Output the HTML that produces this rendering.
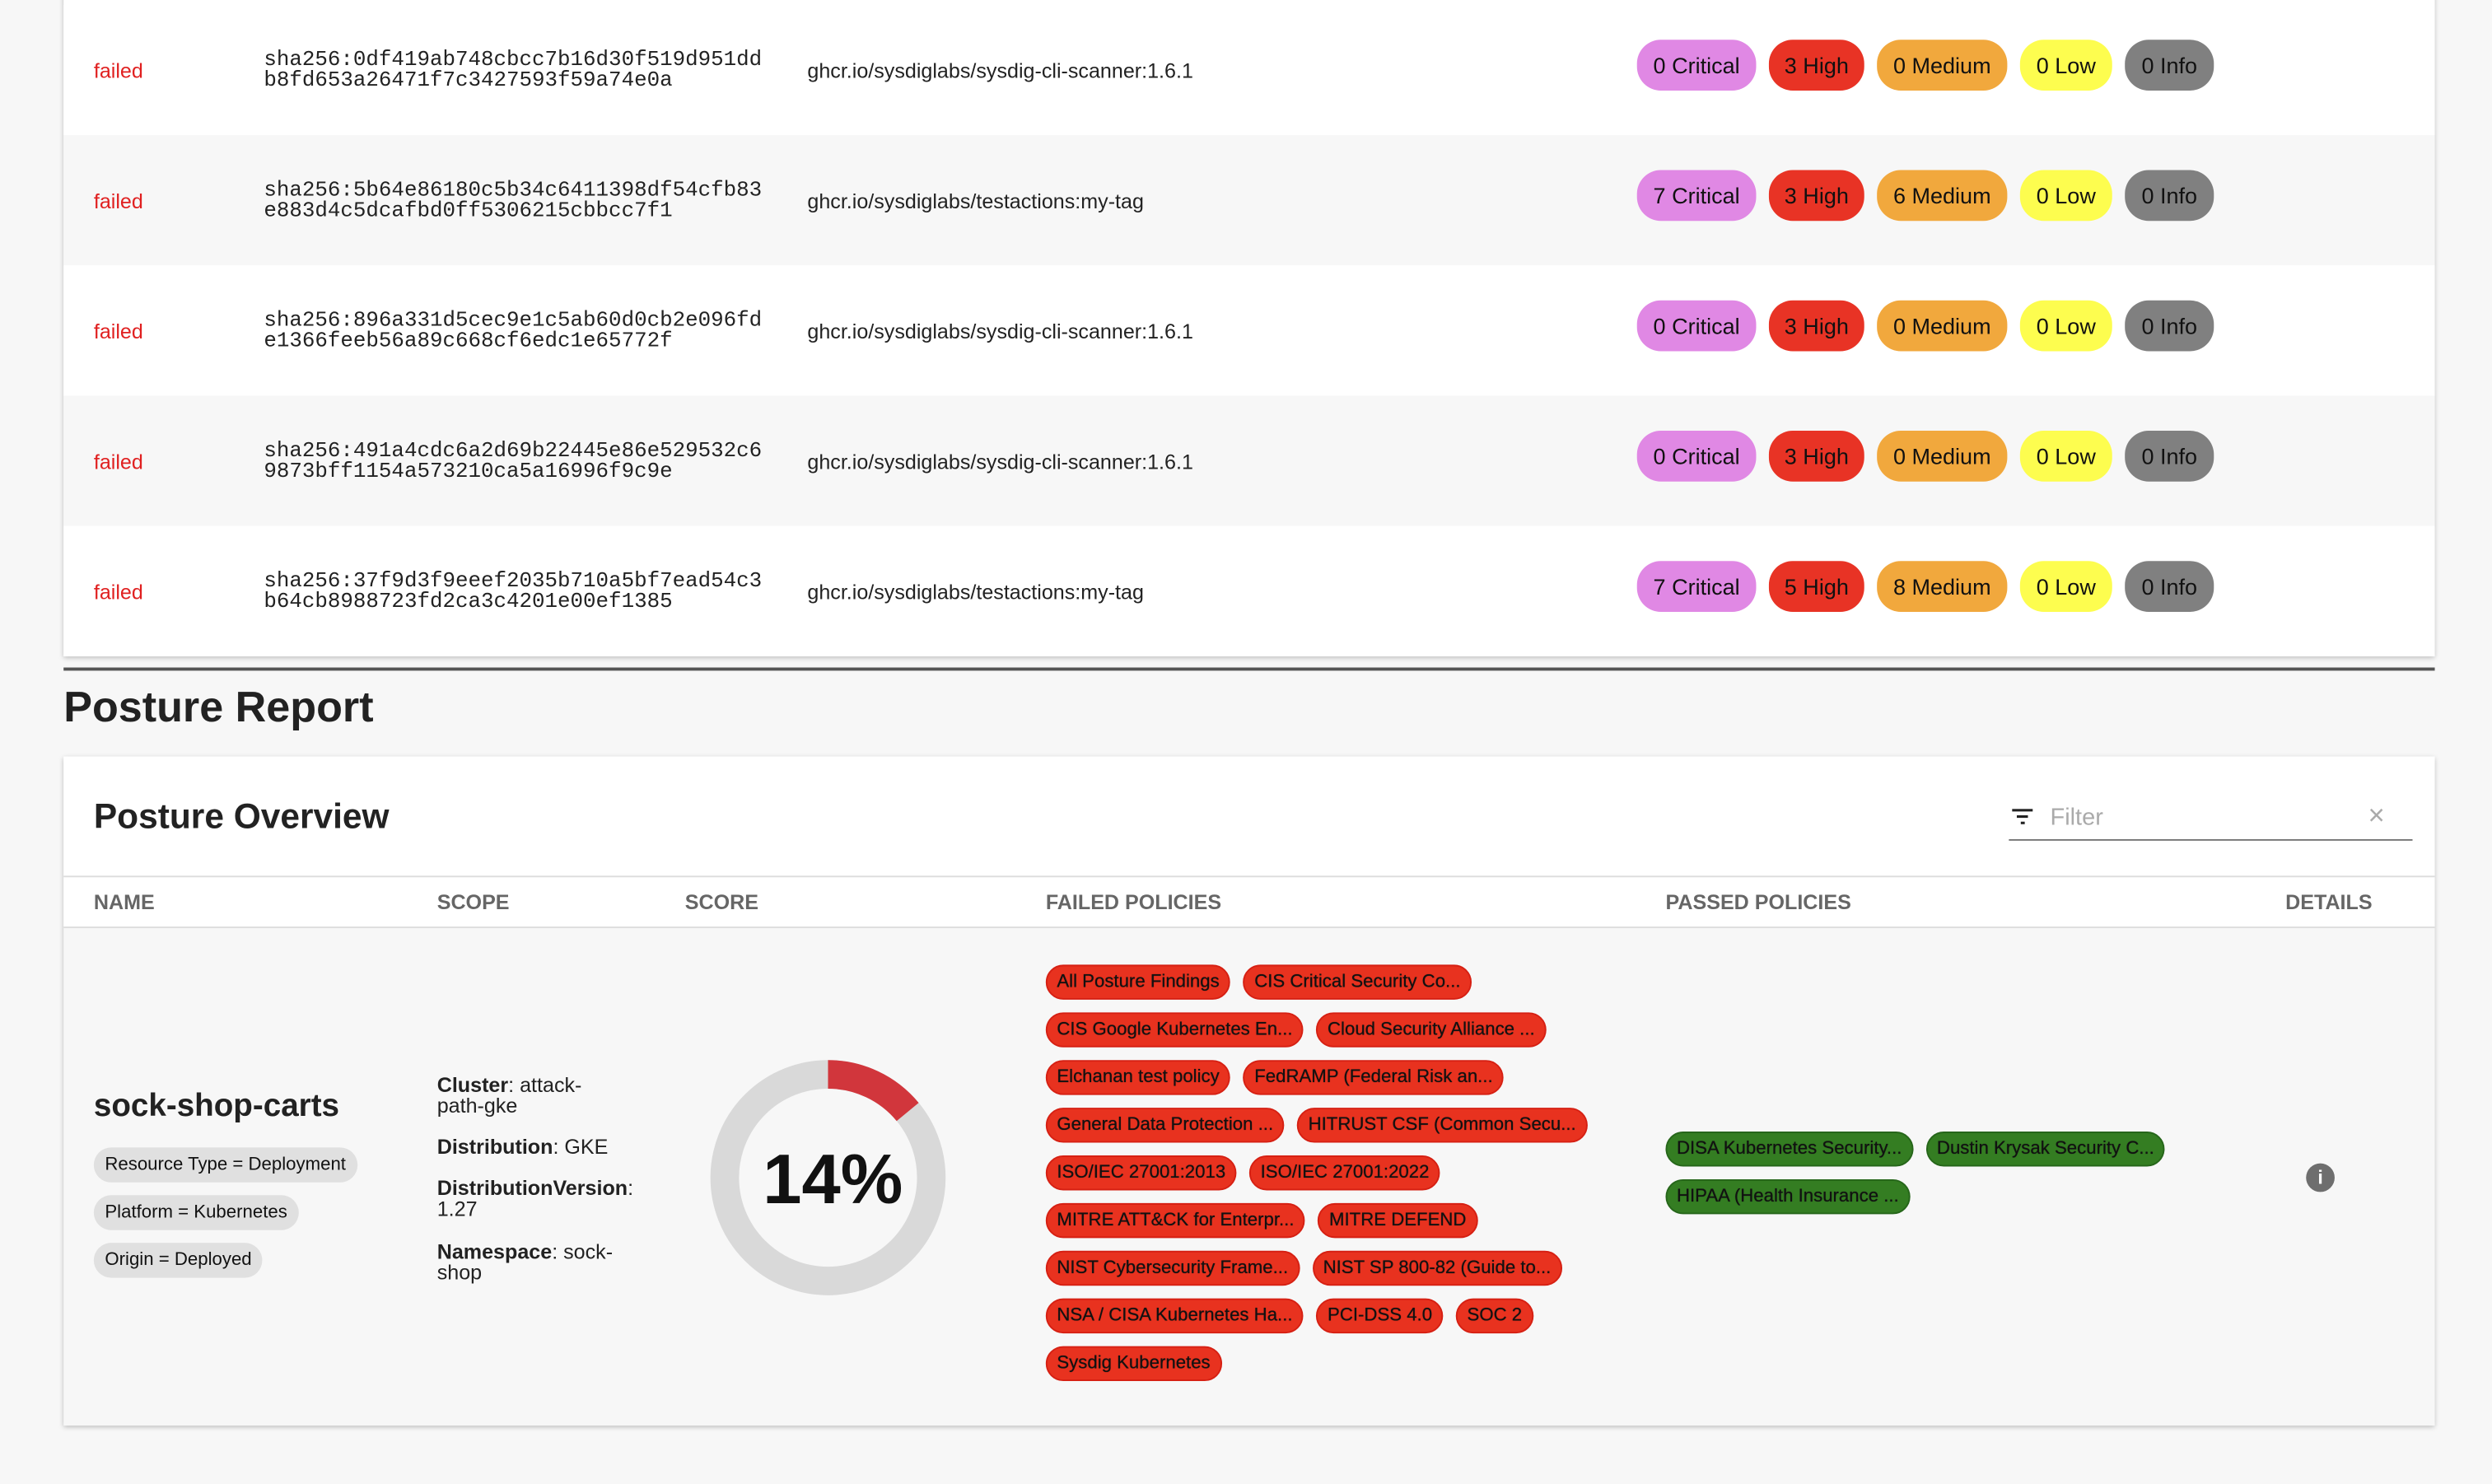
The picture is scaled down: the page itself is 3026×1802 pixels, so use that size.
<!DOCTYPE html>
<html><head><meta charset="utf-8"><style>
*{margin:0;padding:0;box-sizing:border-box}
html,body{width:3026px;height:1802px;overflow:hidden;background:#f7f7f7}
#s{position:absolute;left:0;top:0;width:1568px;height:934px;transform:scale(1.92985);transform-origin:0 0;font-family:"Liberation Sans",sans-serif;color:#222}
.a{position:absolute}
.card1{left:40px;top:-5px;width:1492px;height:418px;background:#fff;box-shadow:0 1px 3px rgba(0,0,0,.25)}
.row{position:absolute;left:0;width:1492px;height:82px}
.f{position:absolute;left:19px;top:34px;color:#e02020;font-size:13px}
.h{position:absolute;left:126px;top:29px;font-family:"Liberation Mono",monospace;font-size:13.4px;line-height:13px;color:#222}
.im{position:absolute;left:468px;top:34px;font-size:13px;color:#222}
.bd{position:absolute;top:22px;height:32px;border-radius:15px;font-size:14px;line-height:32px;text-align:center;color:#111}
.cr{background:#e088e4}.hi{background:#e83325}.me{background:#f1a83d}.lo{background:#fdfd4f}.in{background:#808080}
.card2{left:40px;top:476px;width:1492px;height:421px;background:#f7f7f7;box-shadow:0 1px 3px rgba(0,0,0,.25)}
.th{position:absolute;top:84px;font-size:13px;font-weight:bold;color:#666}
.chip{position:absolute;left:19px;height:22px;border-radius:11px;background:#e0e0e0;font-size:11.5px;line-height:22px;padding:0 7px;color:#111}
.sc{position:absolute;left:235px;font-size:13px;line-height:13px;color:#222}
.pr{position:absolute;left:618px;display:flex;gap:8px}
.p{height:22px;border-radius:11px;background:#e8321f;border:1px solid #d62013;font-size:11.5px;line-height:20px;padding:0 6px;color:#111;white-space:nowrap;text-shadow:0 0 .4px #111}
.g{background:#347d22;border-color:#26661a}
</style></head><body><div id="s">
<div class="a card1">
 <div class="row" style="top:8px;background:#fff"><div class="f">failed</div><div class="h">sha256:0df419ab748cbcc7b16d30f519d951dd<br>b8fd653a26471f7c3427593f59a74e0a</div><div class="im">ghcr.io/sysdiglabs/sysdig-cli-scanner:1.6.1</div>
 <div class="bd cr" style="left:990px;width:75px">0 Critical</div><div class="bd hi" style="left:1073px;width:60px">3 High</div><div class="bd me" style="left:1141px;width:82px">0 Medium</div><div class="bd lo" style="left:1231px;width:58px">0 Low</div><div class="bd in" style="left:1297px;width:56px">0 Info</div></div>
 <div class="row" style="top:90px;background:#f7f7f7"><div class="f">failed</div><div class="h">sha256:5b64e86180c5b34c6411398df54cfb83<br>e883d4c5dcafbd0ff5306215cbbcc7f1</div><div class="im">ghcr.io/sysdiglabs/testactions:my-tag</div>
 <div class="bd cr" style="left:990px;width:75px">7 Critical</div><div class="bd hi" style="left:1073px;width:60px">3 High</div><div class="bd me" style="left:1141px;width:82px">6 Medium</div><div class="bd lo" style="left:1231px;width:58px">0 Low</div><div class="bd in" style="left:1297px;width:56px">0 Info</div></div>
 <div class="row" style="top:172px;background:#fff"><div class="f">failed</div><div class="h">sha256:896a331d5cec9e1c5ab60d0cb2e096fd<br>e1366feeb56a89c668cf6edc1e65772f</div><div class="im">ghcr.io/sysdiglabs/sysdig-cli-scanner:1.6.1</div>
 <div class="bd cr" style="left:990px;width:75px">0 Critical</div><div class="bd hi" style="left:1073px;width:60px">3 High</div><div class="bd me" style="left:1141px;width:82px">0 Medium</div><div class="bd lo" style="left:1231px;width:58px">0 Low</div><div class="bd in" style="left:1297px;width:56px">0 Info</div></div>
 <div class="row" style="top:254px;background:#f7f7f7"><div class="f">failed</div><div class="h">sha256:491a4cdc6a2d69b22445e86e529532c6<br>9873bff1154a573210ca5a16996f9c9e</div><div class="im">ghcr.io/sysdiglabs/sysdig-cli-scanner:1.6.1</div>
 <div class="bd cr" style="left:990px;width:75px">0 Critical</div><div class="bd hi" style="left:1073px;width:60px">3 High</div><div class="bd me" style="left:1141px;width:82px">0 Medium</div><div class="bd lo" style="left:1231px;width:58px">0 Low</div><div class="bd in" style="left:1297px;width:56px">0 Info</div></div>
 <div class="row" style="top:336px;background:#fff"><div class="f">failed</div><div class="h">sha256:37f9d3f9eeef2035b710a5bf7ead54c3<br>b64cb8988723fd2ca3c4201e00ef1385</div><div class="im">ghcr.io/sysdiglabs/testactions:my-tag</div>
 <div class="bd cr" style="left:990px;width:75px">7 Critical</div><div class="bd hi" style="left:1073px;width:60px">5 High</div><div class="bd me" style="left:1141px;width:82px">8 Medium</div><div class="bd lo" style="left:1231px;width:58px">0 Low</div><div class="bd in" style="left:1297px;width:56px">0 Info</div></div>
</div>
<div class="a" style="left:40px;top:420px;width:1492px;height:2px;background:#555"></div>
<div class="a" style="left:40px;top:430px;font-size:27px;font-weight:bold;color:#222">Posture Report</div>
<div class="a card2">
 <div class="a" style="left:0;top:0;width:1492px;height:108px;background:#fff;border-bottom:1px solid #ddd"></div>
 <div class="a" style="left:0;top:75px;width:1492px;height:1px;background:#ddd"></div>
 <div class="a" style="left:19px;top:25px;font-size:22px;font-weight:bold;color:#222">Posture Overview</div>
 <div class="a" style="left:1224px;top:52px;width:254px;height:1px;background:#777"></div>
 <svg class="a" style="left:1226px;top:32px" width="14" height="12"><rect x="0" y="1" width="13" height="1.6" fill="#222"/><rect x="3" y="5" width="7" height="1.6" fill="#222"/><rect x="5.5" y="9" width="2.5" height="1.6" fill="#222"/></svg>
 <div class="a" style="left:1250px;top:30px;font-size:15px;color:#aaa">Filter</div>
 <div class="a" style="left:1450px;top:27px;font-size:18px;color:#aaa">×</div>
 <div class="th" style="left:19px">NAME</div><div class="th" style="left:235px">SCOPE</div><div class="th" style="left:391px">SCORE</div><div class="th" style="left:618px">FAILED POLICIES</div><div class="th" style="left:1008px">PASSED POLICIES</div><div class="th" style="left:1398px">DETAILS</div>
 <div class="a" style="left:19px;top:209px;font-size:20px;font-weight:bold;color:#222">sock-shop-carts</div>
 <div class="chip" style="top:246px">Resource Type = Deployment</div>
 <div class="chip" style="top:276px">Platform = Kubernetes</div>
 <div class="chip" style="top:306px">Origin = Deployed</div>
 <div class="sc" style="top:200px"><b>Cluster</b>: attack-<br>path-gke</div>
 <div class="sc" style="top:239px"><b>Distribution</b>: GKE</div>
 <div class="sc" style="top:265px"><b>DistributionVersion</b>:<br>1.27</div>
 <div class="sc" style="top:305px"><b>Namespace</b>: sock-<br>shop</div>
 <svg class="a" style="left:405px;top:189px" width="152" height="152"><circle cx="76" cy="76" r="65" fill="none" stroke="#d9d9d9" stroke-width="18"/><circle cx="76" cy="76" r="65" fill="none" stroke="#d1363c" stroke-width="18" stroke-dasharray="57.2 400" transform="rotate(-90 76 76)"/><text x="79" y="92" text-anchor="middle" font-family="Liberation Sans" font-weight="bold" font-size="44" fill="#111">14%</text></svg>
 <div class="pr" style="top:131px"><span class="p">All Posture Findings</span><span class="p">CIS Critical Security Co...</span></div>
 <div class="pr" style="top:161px"><span class="p">CIS Google Kubernetes En...</span><span class="p">Cloud Security Alliance ...</span></div>
 <div class="pr" style="top:191px"><span class="p">Elchanan test policy</span><span class="p">FedRAMP (Federal Risk an...</span></div>
 <div class="pr" style="top:221px"><span class="p">General Data Protection ...</span><span class="p">HITRUST CSF (Common Secu...</span></div>
 <div class="pr" style="top:251px"><span class="p">ISO/IEC 27001:2013</span><span class="p">ISO/IEC 27001:2022</span></div>
 <div class="pr" style="top:281px"><span class="p">MITRE ATT&amp;CK for Enterpr...</span><span class="p">MITRE DEFEND</span></div>
 <div class="pr" style="top:311px"><span class="p">NIST Cybersecurity Frame...</span><span class="p">NIST SP 800-82 (Guide to...</span></div>
 <div class="pr" style="top:341px"><span class="p">NSA / CISA Kubernetes Ha...</span><span class="p">PCI-DSS 4.0</span><span class="p">SOC 2</span></div>
 <div class="pr" style="top:371px"><span class="p">Sysdig Kubernetes</span></div>
 <div class="pr" style="left:1008px;top:236px"><span class="p g">DISA Kubernetes Security...</span><span class="p g">Dustin Krysak Security C...</span></div>
 <div class="pr" style="left:1008px;top:266px"><span class="p g">HIPAA (Health Insurance ...</span></div>
 <div class="a" style="left:1411px;top:256px;width:18px;height:18px;border-radius:9px;background:#6e6e6e;color:#fff;font-size:12px;font-weight:bold;text-align:center;line-height:18px">i</div>
</div>
</div></body></html>
